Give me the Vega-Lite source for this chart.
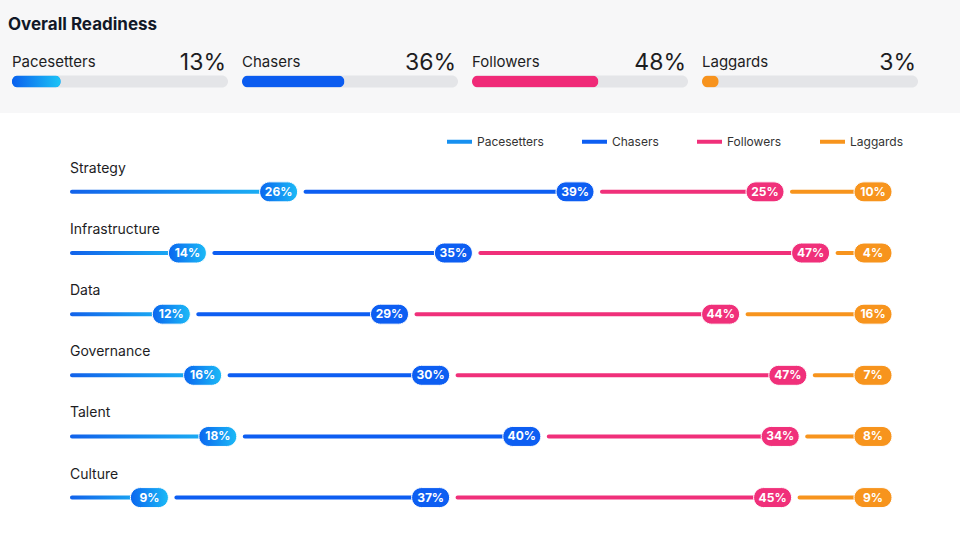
{
  "$schema": "https://vega.github.io/schema/vega-lite/v6.json",
  "background": "#f7f7f8",
  "padding": {"top": 16, "left": 0, "right": 0, "bottom": 0},
  "autosize": {"type": "pad"},
  "config": {"view": {"stroke": null}, "font": "Inter", "text": {"font": "Inter"}},
  "title": {"text": "Overall Readiness", "anchor": "start", "fontSize": 17, "fontWeight": 700, "font": "Inter", "color": "#111827", "dx": 8, "offset": 12},
  "columns": 1,
  "spacing": 0,
  "resolve": {"scale": {"x": "independent", "y": "independent", "color": "independent"}, "legend": {"color": "independent"}},
  "concat": [
    {
      "data": {"values": [
        {"series": "Pacesetters", "share": 0.13},
        {"series": "Chasers", "share": 0.36},
        {"series": "Followers", "share": 0.48},
        {"series": "Laggards", "share": 0.03}
      ]},
      "facet": {"column": {"field": "series", "type": "nominal", "sort": ["Pacesetters", "Chasers", "Followers", "Laggards"], "header": {"title": null, "labels": false}}},
      "spacing": 0,
      "resolve": {"scale": {"y": "independent"}},
      "spec": {
        "width": 229.5,
        "height": 66.5,
        "encoding": {
          "y": {"field": "series", "type": "nominal", "scale": {"type": "point", "padding": 0.5}, "axis": null}
        },
        "layer": [
          {
            "mark": {"type": "bar", "height": 12, "cornerRadius": 6, "color": "#e4e5e8", "yOffset": 2.25},
            "encoding": {
              "x": {"datum": 1, "type": "quantitative", "scale": {"type": "pow", "exponent": 0.73, "domain": [0, 1], "range": [12, 228]}, "axis": null}
            }
          },
          {
            "mark": {"type": "bar", "height": 12, "cornerRadius": 6, "yOffset": 2.25},
            "encoding": {
              "x": {"field": "share", "type": "quantitative"},
              "color": {"field": "series", "type": "nominal", "legend": null,
                "scale": {"domain": ["Pacesetters", "Chasers", "Followers", "Laggards"],
                  "range": ["#128cf2", "#0b5cf0", "#f02a78", "#f7931e"]}}
            }
          },
          {
            "transform": [{"filter": "datum.series === 'Pacesetters'"}],
            "mark": {"type": "bar", "height": 12, "cornerRadius": 6, "yOffset": 2.25,
              "color": {"gradient": "linear", "stops": [{"offset": 0, "color": "#0a60ee"}, {"offset": 1, "color": "#1cc4f6"}]}},
            "encoding": {"x": {"field": "share", "type": "quantitative"}}
          },
          {
            "mark": {"type": "text", "align": "left", "baseline": "alphabetic", "fontSize": 15, "yOffset": -12.75, "color": "#1d1d1f"},
            "encoding": {"x": {"datum": 0, "type": "quantitative"}, "text": {"field": "series"}}
          },
          {
            "mark": {"type": "text", "align": "right", "baseline": "alphabetic", "fontSize": 23, "fontWeight": 400, "yOffset": -9.75, "dx": -2, "color": "#1d1d1f"},
            "encoding": {"x": {"datum": 1, "type": "quantitative"}, "text": {"field": "share", "format": ".0%"}}
          }
        ]
      }
    },
    {
      "width": 960,
      "height": 428,
      "view": {"fill": "#ffffff", "stroke": null},
      "data": {"values": [
        {"dimension": "Strategy", "series": "Pacesetters", "share": 0.26},
        {"dimension": "Strategy", "series": "Chasers", "share": 0.39},
        {"dimension": "Strategy", "series": "Followers", "share": 0.25},
        {"dimension": "Strategy", "series": "Laggards", "share": 0.10},
        {"dimension": "Infrastructure", "series": "Pacesetters", "share": 0.14},
        {"dimension": "Infrastructure", "series": "Chasers", "share": 0.35},
        {"dimension": "Infrastructure", "series": "Followers", "share": 0.47},
        {"dimension": "Infrastructure", "series": "Laggards", "share": 0.04},
        {"dimension": "Data", "series": "Pacesetters", "share": 0.12},
        {"dimension": "Data", "series": "Chasers", "share": 0.29},
        {"dimension": "Data", "series": "Followers", "share": 0.44},
        {"dimension": "Data", "series": "Laggards", "share": 0.16},
        {"dimension": "Governance", "series": "Pacesetters", "share": 0.16},
        {"dimension": "Governance", "series": "Chasers", "share": 0.30},
        {"dimension": "Governance", "series": "Followers", "share": 0.47},
        {"dimension": "Governance", "series": "Laggards", "share": 0.07},
        {"dimension": "Talent", "series": "Pacesetters", "share": 0.18},
        {"dimension": "Talent", "series": "Chasers", "share": 0.40},
        {"dimension": "Talent", "series": "Followers", "share": 0.34},
        {"dimension": "Talent", "series": "Laggards", "share": 0.08},
        {"dimension": "Culture", "series": "Pacesetters", "share": 0.09},
        {"dimension": "Culture", "series": "Chasers", "share": 0.37},
        {"dimension": "Culture", "series": "Followers", "share": 0.45},
        {"dimension": "Culture", "series": "Laggards", "share": 0.09}
      ]},
      "transform": [
        {"stack": "share", "groupby": ["dimension"], "offset": "normalize", "as": ["lo", "hi"]}
      ],
      "encoding": {
        "y": {"field": "dimension", "type": "nominal",
              "sort": ["Strategy", "Infrastructure", "Data", "Governance", "Talent", "Culture"],
              "scale": {"type": "point", "padding": 1.02, "align": 0.645}, "axis": null}
      },
      "layer": [
        {
          "transform": [{"filter": "datum.series === 'Pacesetters'"}],
          "mark": {"type": "text", "align": "left", "baseline": "alphabetic", "fontSize": 14, "dx": -30, "dy": -19, "color": "#1d1d1f"},
          "encoding": {
            "x": {"field": "lo", "type": "quantitative", "scale": {"domain": [-0.131579, 1.131579], "nice": false, "zero": false}, "axis": null},
            "text": {"field": "dimension"}
          }
        },
        {
          "transform": [{"filter": "datum.series === 'Pacesetters'"}],
          "mark": {"type": "bar", "height": 4, "cornerRadius": 2, "xOffset": -30, "x2Offset": -19,
            "color": {"gradient": "linear", "stops": [{"offset": 0, "color": "#1262ea"}, {"offset": 1, "color": "#1bb4f4"}]}},
          "encoding": {"x": {"field": "lo", "type": "quantitative"}, "x2": {"field": "hi"}}
        },
        {
          "transform": [{"filter": "datum.series === 'Chasers' || datum.series === 'Followers'"}],
          "mark": {"type": "bar", "height": 4, "cornerRadius": 2, "xOffset": 6, "x2Offset": -19},
          "encoding": {
            "x": {"field": "lo", "type": "quantitative"},
            "x2": {"field": "hi"},
            "color": {"field": "series", "type": "nominal",
              "scale": {"domain": ["Pacesetters", "Chasers", "Followers", "Laggards"],
                "range": ["#1690f0", "#0d5ef2", "#f0307a", "#f7941d"]},
              "legend": {"orient": "none", "legendX": 447, "legendY": 16, "direction": "horizontal", "title": null,
                "symbolType": "M-1,-0.16L1,-0.16L1,0.16L-1,0.16Z", "symbolSize": 625, "symbolStrokeWidth": 0,
                "labelFont": "Inter", "labelFontSize": 12, "labelColor": "#333333", "labelOffset": 5, "columnPadding": 38}}
          }
        },
        {
          "transform": [{"filter": "datum.series === 'Laggards'"}],
          "mark": {"type": "bar", "height": 4, "cornerRadius": 2, "xOffset": 6, "x2Offset": 13},
          "encoding": {"x": {"field": "lo", "type": "quantitative"}, "x2": {"field": "hi"}, "color": {"field": "series", "type": "nominal"}}
        },
        {
          "transform": [{"filter": "datum.series === 'Pacesetters'"}],
          "mark": {"type": "bar", "height": 20, "cornerRadius": 10, "stroke": "#ffffff", "strokeWidth": 1, "xOffset": -38, "x2Offset": 0,
            "color": {"gradient": "linear", "stops": [{"offset": 0, "color": "#0a66ef"}, {"offset": 1, "color": "#1cbaf6"}]}},
          "encoding": {"x": {"field": "hi", "type": "quantitative"}, "x2": {"field": "hi"}}
        },
        {
          "transform": [{"filter": "datum.series === 'Chasers' || datum.series === 'Followers'"}],
          "mark": {"type": "bar", "height": 20, "cornerRadius": 10, "stroke": "#ffffff", "strokeWidth": 1, "xOffset": -38, "x2Offset": 0},
          "encoding": {"x": {"field": "hi", "type": "quantitative"}, "x2": {"field": "hi"}, "color": {"field": "series", "type": "nominal"}}
        },
        {
          "transform": [{"filter": "datum.series === 'Laggards'"}],
          "mark": {"type": "bar", "height": 20, "cornerRadius": 10, "stroke": "#ffffff", "strokeWidth": 1, "xOffset": -6, "x2Offset": 32},
          "encoding": {"x": {"field": "hi", "type": "quantitative"}, "x2": {"field": "hi"}, "color": {"field": "series", "type": "nominal"}}
        },
        {
          "transform": [{"filter": "datum.series !== 'Laggards'"}],
          "mark": {"type": "text", "align": "center", "baseline": "middle", "fontSize": 12, "fontWeight": 700, "dx": -19, "color": "#ffffff"},
          "encoding": {"x": {"field": "hi", "type": "quantitative"}, "text": {"field": "share", "format": ".0%"}}
        },
        {
          "transform": [{"filter": "datum.series === 'Laggards'"}],
          "mark": {"type": "text", "align": "center", "baseline": "middle", "fontSize": 12, "fontWeight": 700, "dx": 13, "color": "#ffffff"},
          "encoding": {"x": {"field": "hi", "type": "quantitative"}, "text": {"field": "share", "format": ".0%"}}
        }
      ]
    }
  ]
}
